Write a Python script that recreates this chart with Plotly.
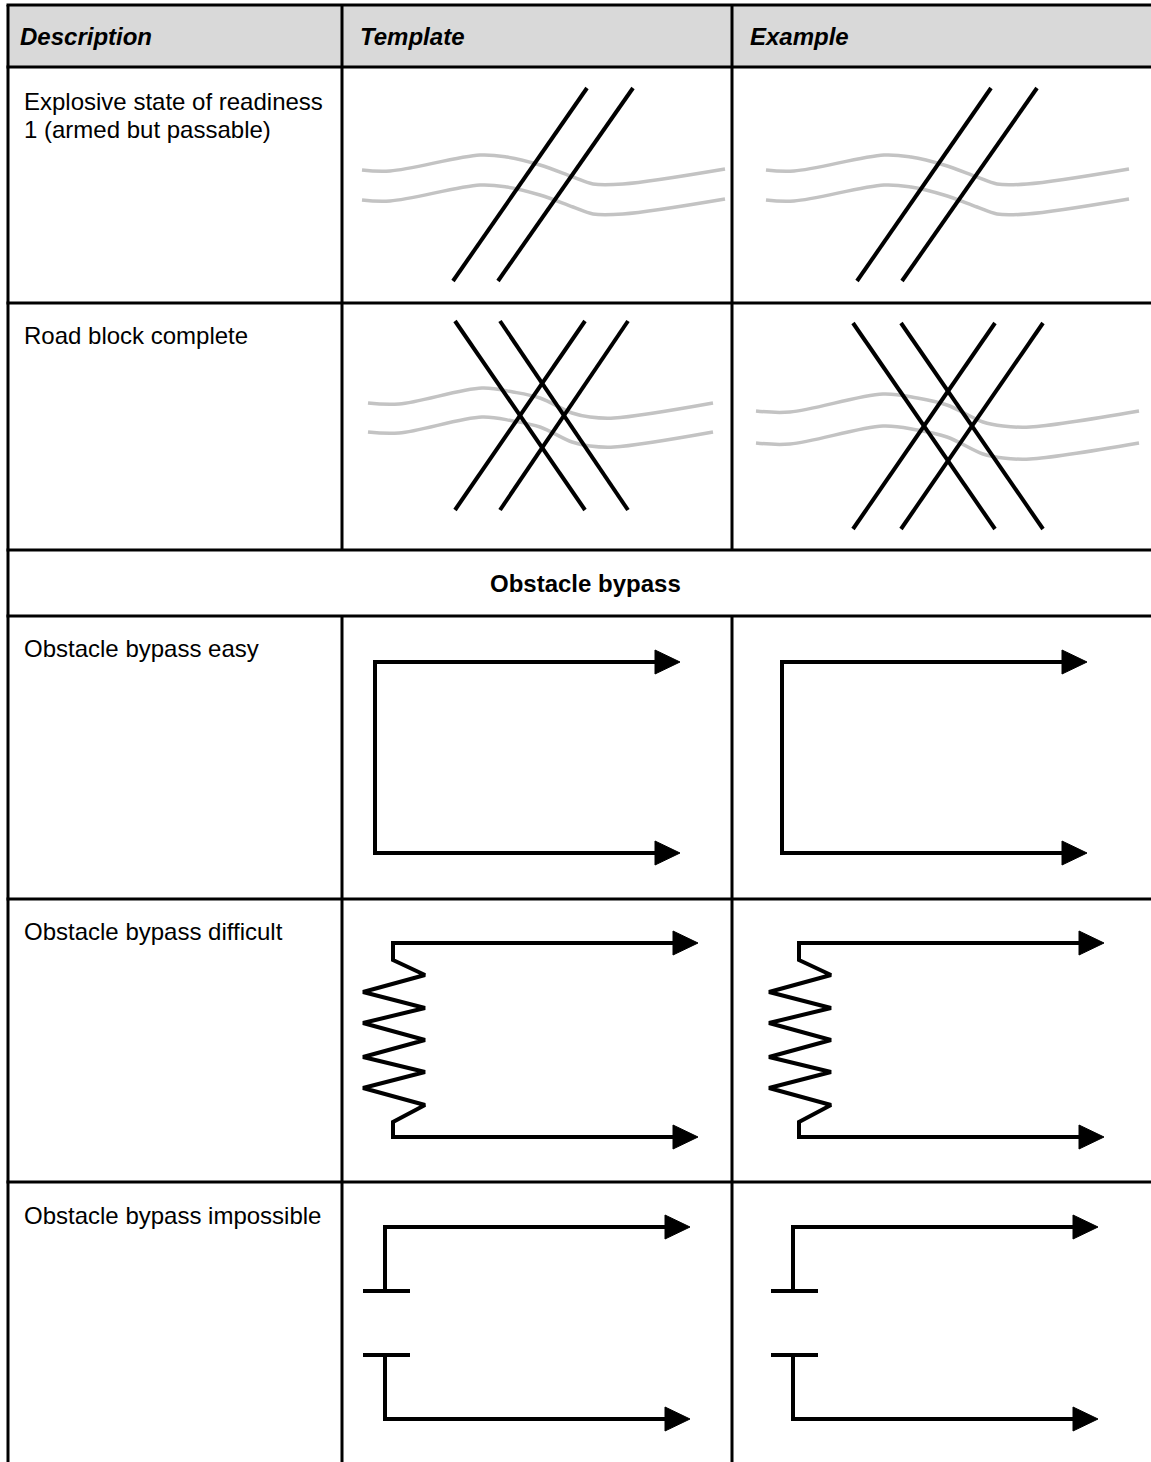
import plotly.graph_objects as go

# ---------------- table text ----------------
headers = ["Description", "Template", "Example"]
header_x = [18, 358, 748]
description_lines = [
    ("Explosive state of readiness", 101),
    ("1 (armed but passable)", 129),
    ("Road block complete", 335),
    ("Obstacle bypass easy", 648),
    ("Obstacle bypass difficult", 931),
    ("Obstacle bypass impossible", 1215),
]
section_title = "Obstacle bypass"

# ---------------- table grid ----------------
col_edges = [8, 342, 732, 1151]
row_edges = [5, 67, 303, 550, 616, 899, 1182, 1462]
section_row = (550, 616)

# ---------------- symbol geometry (pixel coords of the picture) ----------------
# Row 1: two parallel slashes crossing a road
r1_slashes = [[(587, 88), (453, 281)], [(633, 88), (498, 281)]]
r1_road_upper = [(362, 170), (390, 171), (480, 155), (507, 157), (540, 165),
                 (573, 177), (593, 184), (623, 184), (725, 169)]
r1_road_gap = 30
r1_example_shift = 404

# Row 2: double X (template and example drawn separately)
r2_tpl_lines = [[(455, 321), (585, 510)], [(500, 321), (628, 510)],
                [(585, 321), (455, 510)], [(628, 321), (500, 510)]]
r2_tpl_road_upper = [(368, 403), (399, 404), (482, 388), (513, 392), (540, 398),
                     (572, 413), (590, 417), (614, 418), (713, 403)]
r2_tpl_road_gap = 29
r2_ex_lines = [[(853, 323), (995, 529)], [(901, 323), (1043, 529)],
               [(995, 323), (853, 529)], [(1043, 323), (901, 529)]]
r2_ex_road_upper = [(756, 411), (790, 412), (883, 394), (917, 398), (947, 405),
                    (983, 422), (1003, 426), (1030, 427), (1139, 411)]
r2_ex_road_gap = 32

# Row 3: easy bypass
r3_path = [(655, 662), (375, 662), (375, 853), (655, 853)]
r3_arrow_tips = [(680, 662), (680, 853)]
r3_example_shift = 407

# Row 4: difficult bypass (zigzag)
r4_path = [(673, 943), (393, 943), (393, 960), (425, 975), (363, 992), (425, 1008),
           (363, 1023), (425, 1040), (363, 1057), (425, 1072), (363, 1088),
           (425, 1105), (393, 1122), (393, 1137), (673, 1137)]
r4_arrow_tips = [(698, 943), (698, 1137)]
r4_example_shift = 406

# Row 5: impossible bypass
r5_paths = [[(665, 1227), (385, 1227), (385, 1291)],
            [(363, 1291), (410, 1291)],
            [(363, 1355), (410, 1355)],
            [(385, 1355), (385, 1419), (665, 1419)]]
r5_arrow_tips = [(690, 1227), (690, 1419)]
r5_example_shift = 408

ARROW_LEN = 25
ARROW_HALF = 12
BLACK = "#000000"
ROAD = "#c3c3c3"
HEADER_FILL = "#d9d9d9"
FONT = "Liberation Sans, Arial, sans-serif"
FS = 24

W, H = 1151, 1462
fig = go.Figure()


def line(pts, dx=0, dy=0, color=BLACK, width=4, shape="linear"):
    fig.add_trace(go.Scatter(
        x=[p[0] + dx for p in pts], y=[p[1] + dy for p in pts],
        mode="lines", line=dict(color=color, width=width, shape=shape, smoothing=1.0),
        hoverinfo="skip", showlegend=False))


def arrow(tip, dx=0):
    tx, ty = tip[0] + dx, tip[1]
    fig.add_trace(go.Scatter(
        x=[tx - ARROW_LEN, tx, tx - ARROW_LEN, tx - ARROW_LEN],
        y=[ty - ARROW_HALF, ty, ty + ARROW_HALF, ty - ARROW_HALF],
        mode="lines", fill="toself", fillcolor=BLACK,
        line=dict(color=BLACK, width=1), hoverinfo="skip", showlegend=False))


# ---------------- grid shapes ----------------
shapes = []
shapes.append(dict(type="rect", xref="x", yref="y", x0=col_edges[0], x1=col_edges[-1],
                   y0=row_edges[0], y1=row_edges[1], fillcolor=HEADER_FILL,
                   line=dict(width=0), layer="below"))
for y in row_edges[:-1]:
    shapes.append(dict(type="line", xref="x", yref="y", x0=col_edges[0] - 1.5,
                       x1=col_edges[-1], y0=y, y1=y, line=dict(color=BLACK, width=3)))
shapes.append(dict(type="line", xref="x", yref="y", x0=col_edges[0], x1=col_edges[0],
                   y0=row_edges[0], y1=row_edges[-1], line=dict(color=BLACK, width=3)))
for x in col_edges[1:-1]:
    shapes.append(dict(type="line", xref="x", yref="y", x0=x, x1=x,
                       y0=row_edges[0], y1=section_row[0], line=dict(color=BLACK, width=3)))
    shapes.append(dict(type="line", xref="x", yref="y", x0=x, x1=x,
                       y0=section_row[1], y1=row_edges[-1], line=dict(color=BLACK, width=3)))

# ---------------- symbols ----------------
for dx in (0, r1_example_shift):
    line(r1_road_upper, dx=dx, color=ROAD, width=3.5, shape="spline")
    line(r1_road_upper, dx=dx, dy=r1_road_gap, color=ROAD, width=3.5, shape="spline")
    for s in r1_slashes:
        line(s, dx=dx)

line(r2_tpl_road_upper, color=ROAD, width=3.5, shape="spline")
line(r2_tpl_road_upper, dy=r2_tpl_road_gap, color=ROAD, width=3.5, shape="spline")
for s in r2_tpl_lines:
    line(s)
line(r2_ex_road_upper, color=ROAD, width=3.5, shape="spline")
line(r2_ex_road_upper, dy=r2_ex_road_gap, color=ROAD, width=3.5, shape="spline")
for s in r2_ex_lines:
    line(s)

for dx in (0, r3_example_shift):
    line(r3_path, dx=dx)
    for t in r3_arrow_tips:
        arrow(t, dx)

for dx in (0, r4_example_shift):
    line(r4_path, dx=dx)
    for t in r4_arrow_tips:
        arrow(t, dx)

for dx in (0, r5_example_shift):
    for p in r5_paths:
        line(p, dx=dx)
    for t in r5_arrow_tips:
        arrow(t, dx)

# ---------------- text ----------------
ann = []
for txt, x in zip(headers, header_x):
    ann.append(dict(x=x, y=(row_edges[0] + row_edges[1]) / 2, xref="x", yref="y",
                    text=f"<b><i>{txt}</i></b>", showarrow=False, xanchor="left",
                    yanchor="middle", align="left",
                    font=dict(family=FONT, size=FS, color=BLACK)))
for txt, y in description_lines:
    ann.append(dict(x=22, y=y, xref="x", yref="y", text=txt, showarrow=False,
                    xanchor="left", yanchor="middle", align="left",
                    font=dict(family=FONT, size=FS, color=BLACK)))
ann.append(dict(x=585, y=sum(section_row) / 2, xref="x", yref="y",
                text=f"<b>{section_title}</b>", showarrow=False, xanchor="center",
                yanchor="middle", font=dict(family=FONT, size=FS, color=BLACK)))

fig.update_layout(
    width=W, height=H, margin=dict(l=0, r=0, t=0, b=0),
    paper_bgcolor="white", plot_bgcolor="white",
    xaxis=dict(range=[0, W], visible=False, fixedrange=True),
    yaxis=dict(range=[H, 0], visible=False, fixedrange=True),
    shapes=shapes, annotations=ann, showlegend=False,
)
fig.write_html("out.html",
               config={"displayModeBar": False, "staticPlot": True},
               post_script="document.body.style.margin='0';document.body.style.padding='0';")
